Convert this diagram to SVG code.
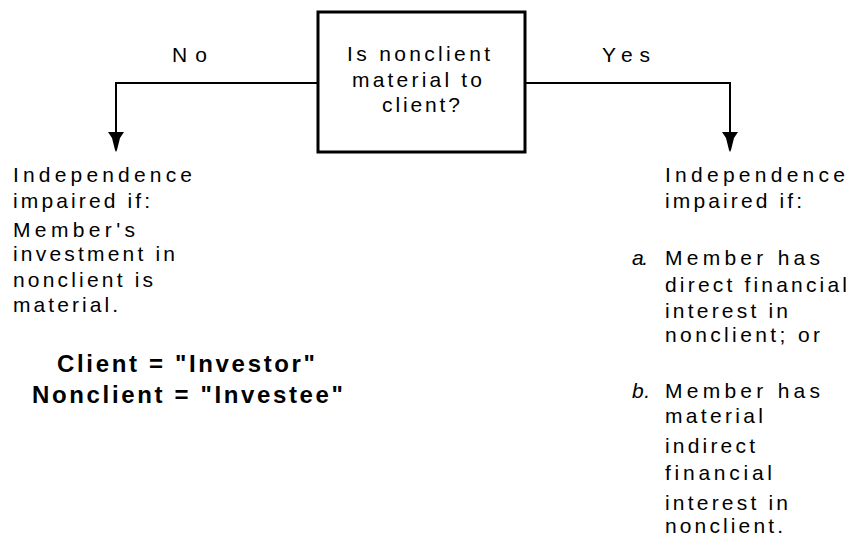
<svg xmlns="http://www.w3.org/2000/svg" width="848" height="537" viewBox="0 0 848 537">
<style>
text{font-family:"Liberation Sans",Arial,sans-serif;font-size:21px;fill:#000}
.b{font-weight:bold;font-size:24px}
.i{font-style:italic}
.ln{fill:none;stroke:#000;stroke-width:2}
.ah{fill:#000}
</style>
<rect width="848" height="537" fill="#fff"/>
<g id="connectors">
<path class="ln" d="M318,83 H116 V136"/>
<polygon class="ah" points="108,132 124,132 120,138 117,150 116,152 115,150 112,138"/>
<text x="172" y="62" textLength="35" lengthAdjust="spacing">No</text>
<path class="ln" d="M525,83 H730 V136"/>
<polygon class="ah" points="722,132 738,132 734,138 731,150 730,152 729,150 726,138"/>
<text x="602" y="62" textLength="48" lengthAdjust="spacing">Yes</text>
</g>
<g id="question">
<rect x="318" y="12" width="207" height="140" fill="#fff" stroke="#000" stroke-width="3"/>
<text x="347" y="61" textLength="143" lengthAdjust="spacing">Is nonclient</text>
<text x="352" y="87" textLength="130" lengthAdjust="spacing">material to</text>
<text x="382" y="112" textLength="78" lengthAdjust="spacing">client?</text>
</g>
<g id="no-result">
<text x="13" y="182" textLength="179" lengthAdjust="spacing">Independence</text>
<text x="13" y="208" textLength="137" lengthAdjust="spacing">impaired if:</text>
<text x="13" y="237" textLength="122" lengthAdjust="spacing">Member's</text>
<text x="13" y="261" textLength="162" lengthAdjust="spacing">investment in</text>
<text x="13" y="287" textLength="140" lengthAdjust="spacing">nonclient is</text>
<text x="13" y="312" textLength="105" lengthAdjust="spacing">material.</text>
</g>
<g id="legend">
<text class="b" x="57" y="372" textLength="258" lengthAdjust="spacing">Client = "Investor"</text>
<text class="b" x="32" y="403" textLength="311" lengthAdjust="spacing">Nonclient = "Investee"</text>
</g>
<g id="yes-result">
<text x="665" y="182" textLength="180" lengthAdjust="spacing">Independence</text>
<text x="665" y="208" textLength="137" lengthAdjust="spacing">impaired if:</text>
<text class="i" x="632" y="265" textLength="16" lengthAdjust="spacing">a.</text>
<text x="665" y="265" textLength="155" lengthAdjust="spacing">Member has</text>
<text x="665" y="292" textLength="182" lengthAdjust="spacing">direct financial</text>
<text x="665" y="318" textLength="123" lengthAdjust="spacing">interest in</text>
<text x="665" y="342" textLength="155" lengthAdjust="spacing">nonclient; or</text>
<text class="i" x="632" y="398" textLength="18" lengthAdjust="spacing">b.</text>
<text x="665" y="398" textLength="155" lengthAdjust="spacing">Member has</text>
<text x="665" y="423" textLength="98" lengthAdjust="spacing">material</text>
<text x="665" y="453" textLength="90" lengthAdjust="spacing">indirect</text>
<text x="665" y="480" textLength="107" lengthAdjust="spacing">financial</text>
<text x="665" y="510" textLength="123" lengthAdjust="spacing">interest in</text>
<text x="665" y="533" textLength="118" lengthAdjust="spacing">nonclient.</text>
</g>
</svg>
